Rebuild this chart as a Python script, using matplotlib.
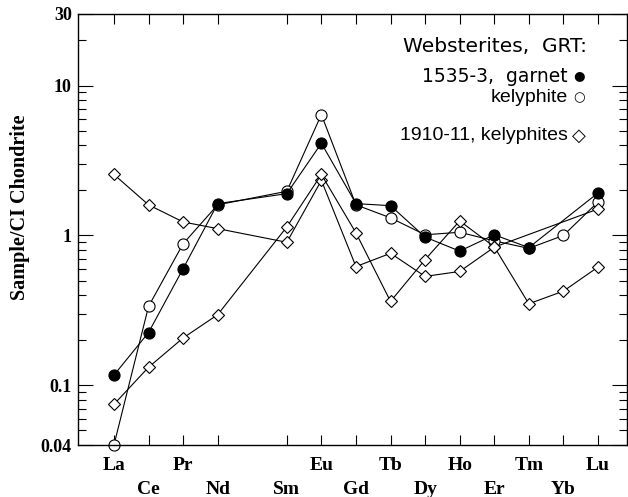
import numpy as np
import matplotlib.pyplot as plt
from matplotlib.ticker import FixedLocator, FixedFormatter, NullFormatter

# REE, x = atomic number (Pm left out)
elements = ["La", "Ce", "Pr", "Nd", "Sm", "Eu", "Gd", "Tb", "Dy", "Ho", "Er", "Tm", "Yb", "Lu"]
atomic_num = [57, 58, 59, 60, 62, 63, 64, 65, 66, 67, 68, 69, 70, 71]

nan = np.nan
garnet_1535 = [0.117, 0.225, 0.60, 1.63, 1.90, 4.12, 1.63, 1.58, 0.975, 0.786, 1.01, 0.83, nan, 1.92]
kelyphite_1535 = [0.04, 0.336, 0.88, 1.60, 1.97, 6.4, 1.60, 1.31, 1.01, 1.05, 0.92, 0.82, 1.0, 1.67]
kelyphite_1910_a = [2.55, 1.60, 1.23, 1.11, 0.90, 2.33, 0.62, 0.76, 0.533, 0.575, 0.835, nan, nan, 1.50]
kelyphite_1910_b = [0.0747, 0.132, 0.207, 0.296, 1.14, 2.55, 1.04, 0.363, 0.69, 1.25, 0.84, 0.35, 0.425, 0.615]

ytick_vals = [0.04, 0.1, 1, 10, 30]
ytick_labels = ["0.04", "0.1", "1", "10", "30"]
yminor_vals = [0.05, 0.06, 0.07, 0.08, 0.09,
               0.2, 0.3, 0.4, 0.5, 0.6, 0.7, 0.8, 0.9,
               2, 3, 4, 5, 6, 7, 8, 9, 20]

serif = "Liberation Serif"

fig = plt.figure(figsize=(6.28, 4.97), dpi=100)
ax = fig.add_axes([78 / 628, 52 / 497, 549 / 628, 431 / 497])


def draw(vals, marker, face, ms):
    v = np.asarray(vals, dtype=float)
    x = np.asarray(atomic_num, dtype=float)
    ok = ~np.isnan(v)
    ax.plot(x[ok], v[ok], color="black", lw=0.8, marker=marker, ms=ms,
            mfc=face, mec="black", mew=0.8, clip_on=False)


draw(kelyphite_1535, "o", "white", 8)
draw(garnet_1535, "o", "black", 8)
draw(kelyphite_1910_a, "D", "white", 6.5)
draw(kelyphite_1910_b, "D", "white", 6.5)

ax.set_yscale("log")
ax.set_xlim(55.96, 71.84)
ax.set_ylim(0.04, 30)

ax.xaxis.set_major_locator(FixedLocator(atomic_num))
ax.xaxis.set_major_formatter(FixedFormatter(elements))
ax.xaxis.set_minor_locator(FixedLocator([]))
ax.yaxis.set_major_locator(FixedLocator(ytick_vals))
ax.yaxis.set_major_formatter(FixedFormatter(ytick_labels))
ax.yaxis.set_minor_locator(FixedLocator(yminor_vals))
ax.yaxis.set_minor_formatter(NullFormatter())

ax.tick_params(which="both", direction="in", top=True, right=True, width=0.8)
ax.tick_params(axis="x", length=7.5)
ax.tick_params(axis="y", which="major", length=11, pad=4.5)
ax.tick_params(axis="y", which="minor", length=6)

for lab in ax.get_xticklabels():
    lab.set_fontfamily(serif)
    lab.set_fontweight("bold")
    lab.set_fontsize(14)
for lab in ax.get_yticklabels():
    lab.set_fontfamily(serif)
    lab.set_fontweight("bold")
    lab.set_fontsize(13)

# two rows of element names: odd Z on top, even Z below
for z, t in zip(atomic_num, ax.xaxis.get_major_ticks()):
    t.set_pad(9 if z % 2 else 26)

for s in ax.spines.values():
    s.set_linewidth(1.0)

ax.set_ylabel("Sample/CI Chondrite", family=serif, fontweight="bold", fontsize=14.5)
ax.yaxis.set_label_coords(-0.087, 0.552)


# legend written as text, like the original
def fx(px):
    return (px - 78) / 549


def fy(py):
    return (445 - py) / 431


kw = dict(transform=ax.transAxes, va="center", color="black")
ax.text(fx(587), fy(47), "Websterites,  GRT:", ha="right", family="DejaVu Sans", fontsize=14.5, **kw)
ax.text(fx(568), fy(76), "1535-3,  garnet", ha="right", family="DejaVu Sans", fontsize=13.5, **kw)
ax.text(fx(568), fy(98), "kelyphite", ha="right", family="Liberation Sans", fontsize=14, **kw)
ax.text(fx(568), fy(136), "1910-11, kelyphites", ha="right", family="Liberation Sans", fontsize=14, **kw)
ax.text(fx(579), fy(76), "\u25CF", ha="center", family="DejaVu Sans", fontsize=9.5, **kw)
ax.text(fx(579), fy(98), "\u25CB", ha="center", family="DejaVu Sans", fontsize=9.5, **kw)
ax.text(fx(579), fy(136), "\u25C7", ha="center", family="DejaVu Sans", fontsize=13, **kw)

fig.savefig("out.png", dpi=100)
